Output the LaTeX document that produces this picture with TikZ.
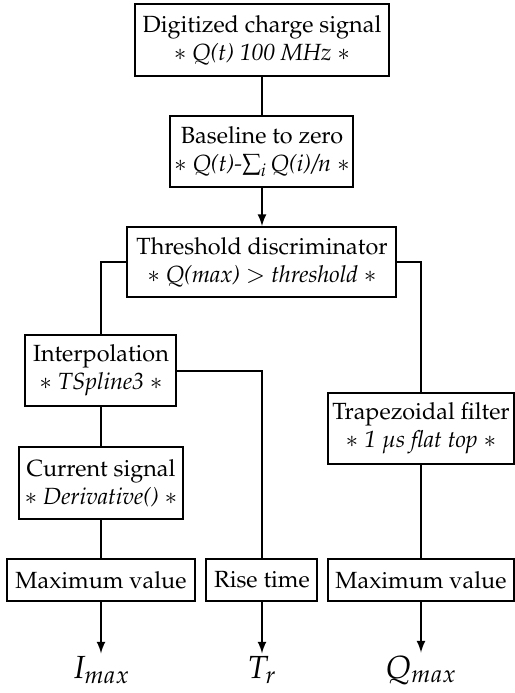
\documentclass[tikz,border=0pt]{standalone}
\usepackage[T1]{fontenc}
\usepackage{mathpazo}
\usepackage{amsmath,amssymb}
\usepackage{tikz}
\usetikzlibrary{arrows,positioning,calc}

\begin{document}
\begin{tikzpicture}[x=0.5pt, y=-0.5pt, >=latex, line width=1pt,
    box/.style={draw, align=center, inner sep=1pt, font=\fontsize{11.7}{14}\selectfont},
    result/.style={inner sep=1pt, font=\fontsize{16}{18}\selectfont}]
    \useasboundingbox (0,0) rectangle (515,693);
    % main chain
    \node[box, minimum width=127pt, minimum height=36pt] (digit) at (262,40) {Digitized charge signal\\ $\ast$ \textit{Q(t) 100 MHz} $\ast$};
    \node[box, minimum width=91.5pt, minimum height=35.5pt] (base) at (262,151.5) {Baseline to zero\\ $\ast$ \textit{Q(t)-}$\textstyle\sum_i$\,\textit{Q(i)/n} $\ast$};
    \node[box, minimum width=134.5pt, minimum height=35pt] (thresh) at (262,262) {Threshold discriminator\\ $\ast$ \textit{Q(max)} $>$ \textit{threshold} $\ast$};
    % left branch
    \node[box, minimum width=75.5pt, minimum height=35.5pt] (interp) at (101,370.5) {Interpolation\\ $\ast$ \textit{TSpline3} $\ast$};
    \node[box, minimum width=82pt, minimum height=36pt] (current) at (101,483) {Current signal\\ $\ast$ \textit{Derivative()} $\ast$};
    \node[box, minimum width=94pt, minimum height=21pt] (maxI) at (101,580) {Maximum value};
    \node[box, minimum width=55.5pt, minimum height=21pt] (rise) at (262,580) {Rise time};
    % right branch
    \node[box, minimum width=93pt, minimum height=35.5pt] (trap) at (421,428.5) {Trapezoidal filter\\ $\ast$ \textit{1 $\mu$s flat top} $\ast$};
    \node[box, minimum width=93pt, minimum height=21pt] (maxQ) at (421,580) {Maximum value};
    % outputs
    \node[result] (imax) at (101,670) {$I_{max}$};
    \node[result] (tr) at (262,670) {$T_r$};
    \node[result] (qmax) at (421,670) {$Q_{max}$};

    \draw (digit) -- (base);
    \draw[->] (base) -- (thresh);
    \draw (thresh.west) -| (interp.north);
    \draw (thresh.east) -| (trap.north);
    \draw (interp) -- (current);
    \draw (current) -- (maxI);
    \draw (interp.east) -| (rise.north);
    \draw (trap) -- (maxQ);
    \draw[->] (maxI) -- (imax);
    \draw[->] (rise) -- (tr);
    \draw[->] (maxQ) -- (qmax);
\end{tikzpicture}
\end{document}
